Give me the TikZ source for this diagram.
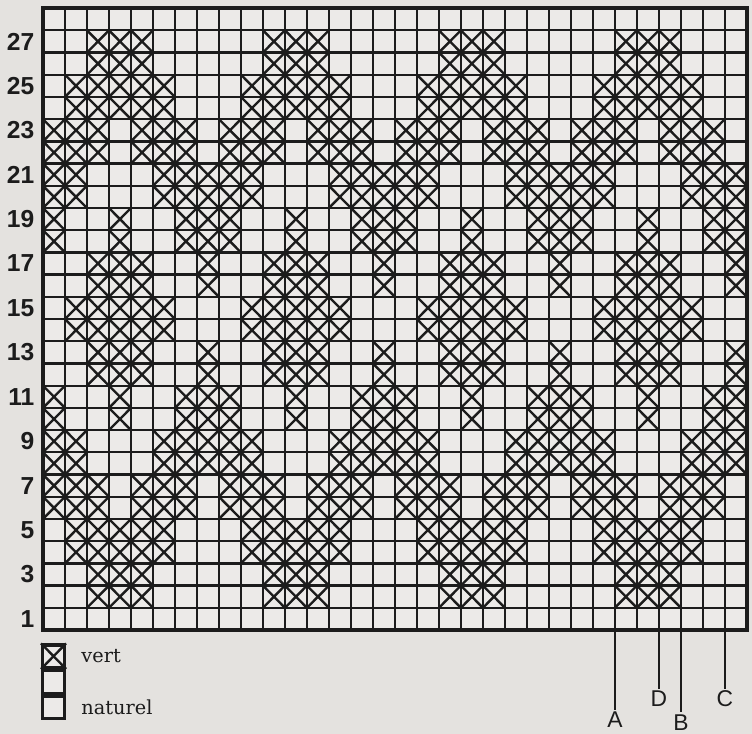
\documentclass[tikz,border=0pt]{standalone}
\usepackage{fontspec}
\setmainfont{DejaVu Serif}
\newfontfamily\chartsans{Liberation Sans}
\usetikzlibrary{positioning}
\definecolor{paper}{HTML}{E4E2DF}
\definecolor{cellgray}{HTML}{ECEAE8}
\definecolor{ink}{HTML}{1C1C1C}
\tikzset{
  gridline/.style={draw=ink, line width=1.3pt},
  frame/.style={draw=ink, line width=2.6pt},
  stitch/.style={draw=ink, line width=1.35pt},
  rowlabel/.style={
    anchor=east,
    inner sep=1pt,
    text=ink,
    font=\chartsans\bfseries\fontsize{14}{14}\selectfont
  },
  letter/.style={
    inner sep=1pt,
    text=ink,
    font=\chartsans\fontsize{13}{13}\selectfont
  },
  keybox/.style={
    rectangle,
    draw=ink,
    line width=1.8pt,
    fill=cellgray,
    minimum width=0.44cm,
    minimum height=0.45cm,
    inner sep=0pt
  },
  keytext/.style={text=ink, inner sep=0pt, font=\fontsize{11}{11}\selectfont},
  pointer/.style={draw=ink, line width=1.3pt}
}

\begin{document}
\begin{tikzpicture}[x=0.02cm, y=0.02cm]

\fill[paper] (0,0) rectangle (752,734);
\useasboundingbox (0,0) rectangle (752,734);

\begin{scope}[shift={(0.86cm,2.08cm)}, x=0.44cm, y=0.4443cm]

% chart
\fill[cellgray] (0,0) rectangle (32,28);
\foreach \r/\cols in {2/{3,4,5}, 4/{2,3,4,5,6}, 6/{1,2,3,5,6,7}, 8/{1,2,6,7,8},
                      10/{1,4,7,8}, 12/{3,4,5,8}, 14/{2,3,4,5,6}, 16/{3,4,5,8},
                      18/{1,4,7,8}, 20/{1,2,6,7,8}, 22/{1,2,3,5,6,7},
                      24/{2,3,4,5,6}, 26/{3,4,5}} {
  \foreach \c in \cols {
    \foreach \k in {0,8,16,24} {
      \foreach \y in {\r-1,\r} {
        \draw[stitch] (\c+\k-1,\y) -- (\c+\k,\y+1)
                      (\c+\k-1,\y+1) -- (\c+\k,\y);
      }
    }
  }
}
\draw[gridline, step=1] (0,0) grid (32,28);
\draw[frame] (0,0) rectangle (32,28);

% row numbers
\foreach \r in {1,3,...,27}
  \node[rowlabel] (row\r) at (-0.3,\r-0.5) {\r};

% legend
\node[keybox] (vertkey) at (0.48,-1.18) {};
\node[keybox, below=0pt of vertkey] (blankkey) {};
\node[keybox, below=0pt of blankkey] (naturelkey) {};
\draw[stitch] (vertkey.south west) -- (vertkey.north east)
              (vertkey.north west) -- (vertkey.south east);
\node[keytext, right=0.3cm of vertkey] (vert) {vert};
\node[keytext, right=0.3cm of naturelkey] (naturel) {naturel};

% markers
\coordinate (afoot) at (26,0);
\coordinate (dfoot) at (28,0);
\coordinate (bfoot) at (29,0);
\coordinate (cfoot) at (31,0);
\node[letter] (A) at (26,-4.05) {A};
\node[letter] (D) at (28,-3.1) {D};
\node[letter] (B) at (29,-4.15) {B};
\node[letter] (C) at (31,-3.1) {C};
\draw[pointer] (afoot) -- (A);
\draw[pointer] (dfoot) -- (D);
\draw[pointer] (bfoot) -- (B);
\draw[pointer] (cfoot) -- (C);

\end{scope}

\end{tikzpicture}
\end{document}
